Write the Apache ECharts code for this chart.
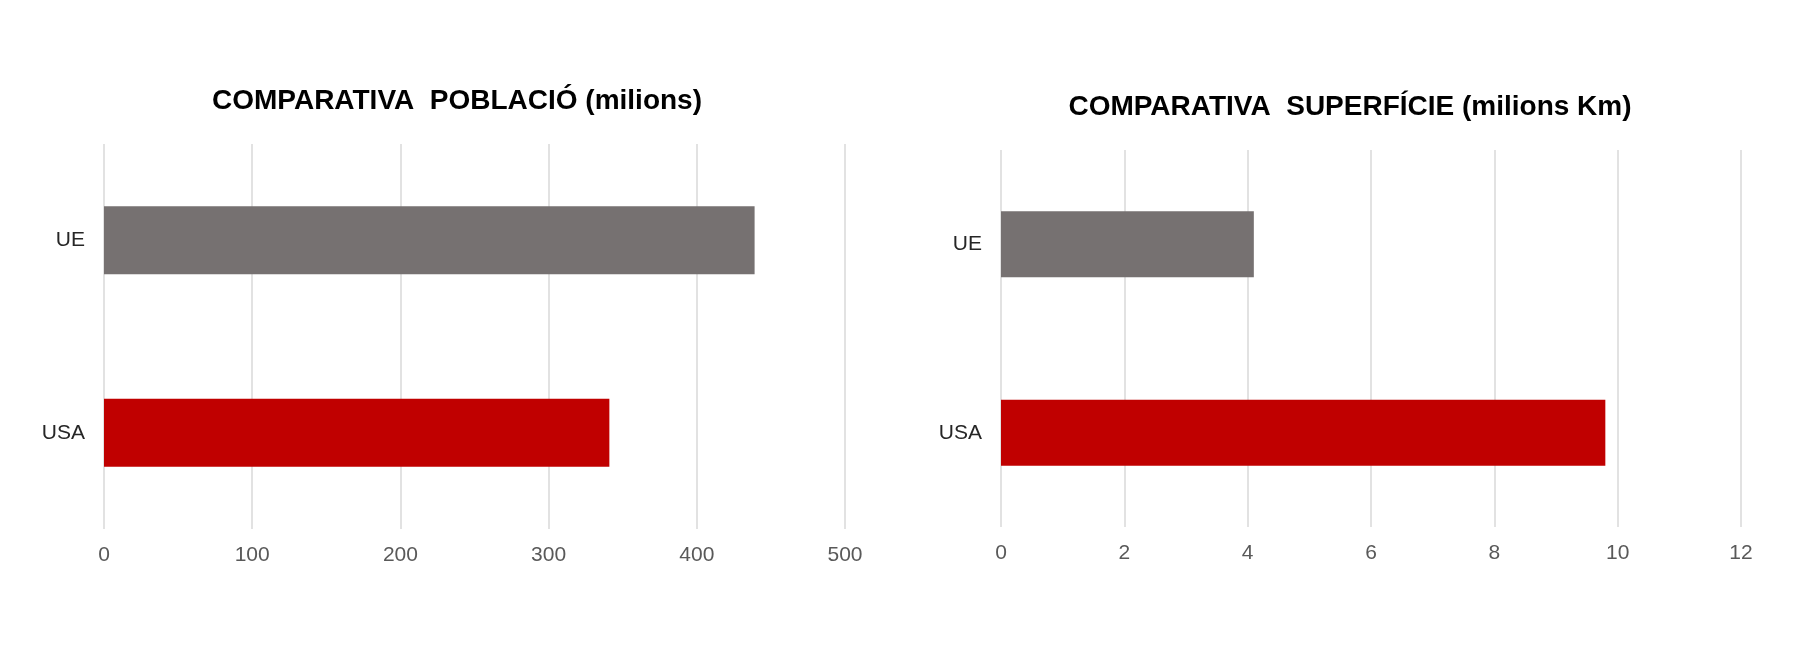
<!DOCTYPE html>
<html>
<head>
<meta charset="utf-8">
<script src="https://cdn.jsdelivr.net/npm/echarts@6/dist/echarts.min.js"></script>
<style>
html, body { margin: 0; padding: 0; background: #fff; }
#main { width: 1800px; height: 650px; }
</style>
</head>
<body>
<div id="main"></div>
<script>
var myChart = echarts.init(document.getElementById('main'));

var categories = ['UE', 'USA'];
var barColors = ['#767171', '#C00000'];
var poblacio = [439, 341];      // milions d'habitants
var superficie = [4.1, 9.8];    // milions de Km

function coloured(values) {
    return values.map(function (v, i) {
        return { value: v, itemStyle: { color: barColors[i] } };
    });
}

var font = 'Liberation Sans, Arial, sans-serif';

function valueAxis(idx, max, interval) {
    return {
        gridIndex: idx,
        type: 'value',
        min: 0,
        max: max,
        interval: interval,
        axisLine: { show: false },
        axisTick: { show: false },
        axisLabel: { color: '#595959', fontSize: 21, fontFamily: font, margin: 16 },
        splitLine: { lineStyle: { color: '#d9d9d9', width: 1.5 } }
    };
}

function catAxis(idx) {
    return {
        gridIndex: idx,
        type: 'category',
        inverse: true,
        data: categories,
        axisLine: { show: false },
        axisTick: { show: false },
        axisLabel: { color: '#262626', fontSize: 21, fontFamily: font, margin: 19 }
    };
}

option = {
    backgroundColor: '#fff',
    animation: false,
    title: [{
        text: 'COMPARATIVA  POBLACIÓ (milions)',
        left: 452,
        top: 82,
        textAlign: 'center',
        textStyle: { fontSize: 28, fontWeight: 'bold', color: '#000', fontFamily: font }
    }, {
        text: 'COMPARATIVA  SUPERFÍCIE (milions Km)',
        left: 1345,
        top: 88,
        textAlign: 'center',
        textStyle: { fontSize: 28, fontWeight: 'bold', color: '#000', fontFamily: font }
    }],
    grid: [
        { left: 104, top: 144, width: 741, height: 385 },
        { left: 1001, top: 150, width: 740, height: 377 }
    ],
    xAxis: [valueAxis(0, 500, 100), valueAxis(1, 12, 2)],
    yAxis: [catAxis(0), catAxis(1)],
    series: [{
        name: 'Població',
        type: 'bar',
        xAxisIndex: 0,
        yAxisIndex: 0,
        barWidth: 68,
        data: coloured(poblacio)
    }, {
        name: 'Superfície',
        type: 'bar',
        xAxisIndex: 1,
        yAxisIndex: 1,
        barWidth: 66,
        data: coloured(superficie)
    }]
};
myChart.setOption(option);
</script>
</body>
</html>
